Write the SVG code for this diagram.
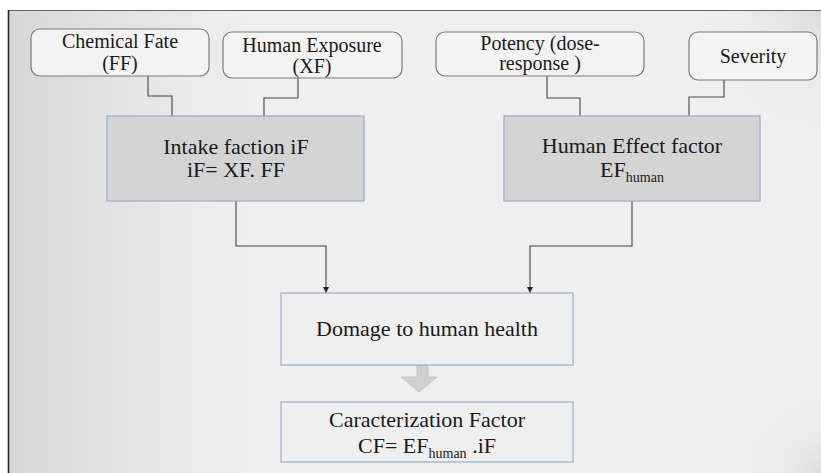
<svg xmlns="http://www.w3.org/2000/svg" width="821" height="473" viewBox="0 0 821 473">
<defs>
<linearGradient id="bgL" x1="0" y1="0" x2="1" y2="0">
<stop offset="0" stop-color="#d6d6d6"/>
<stop offset="0.12" stop-color="#e2e2e2"/>
<stop offset="0.3" stop-color="#efefef"/>
<stop offset="1" stop-color="#efefef"/>
</linearGradient>
<radialGradient id="tr" cx="821" cy="10" r="140" gradientUnits="userSpaceOnUse">
<stop offset="0" stop-color="#dcdcdc"/>
<stop offset="1" stop-color="#efefef" stop-opacity="0"/>
</radialGradient>
<radialGradient id="br" cx="821" cy="473" r="90" gradientUnits="userSpaceOnUse">
<stop offset="0" stop-color="#dedede"/>
<stop offset="1" stop-color="#efefef" stop-opacity="0"/>
</radialGradient>
<marker id="arr" viewBox="0 0 10 10" refX="10" refY="5" markerWidth="6" markerHeight="6" orient="auto" markerUnits="userSpaceOnUse">
<path d="M0,0 L10,5 L0,10 z" fill="#222"/>
</marker>
</defs>
<style>
text{font-family:"Liberation Serif","Times New Roman",serif;fill:#1a1a1a;text-anchor:middle}
.small rect{fill:#f3f3f3;stroke:#7a7a7a;stroke-width:1.2}
.mid rect{fill:#d4d4d4;stroke:#94aecb;stroke-width:1.2}
.low rect{fill:#efefef;stroke:#a3bad4;stroke-width:1.4}
.c{fill:none;stroke:#444;stroke-width:1.1}
.t1{font-size:20px}
.t2{font-size:22px}
.sub{font-size:14px}
</style>
<rect x="0" y="0" width="821" height="473" fill="#ffffff"/>
<rect x="8" y="10" width="813" height="463" fill="url(#bgL)"/>
<rect x="8" y="10" width="813" height="463" fill="url(#tr)"/>
<rect x="8" y="10" width="813" height="463" fill="url(#br)"/>
<line x1="8" y1="10.5" x2="821" y2="10.5" stroke="#666" stroke-width="1.2"/>
<line x1="8.5" y1="10" x2="8.5" y2="473" stroke="#222" stroke-width="1.6"/>

<g id="connectors">
<path class="c" d="M148,76 V96 H172 V116"/>
<path class="c" d="M298,78 V98 H264 V116"/>
<path class="c" d="M547,76 V98 H580 V116"/>
<path class="c" d="M724,80 V97 H689 V116"/>
<path class="c" d="M236,201 V246 H326 V293" marker-end="url(#arr)"/>
<path class="c" d="M632,201 V246 H530 V293" marker-end="url(#arr)"/>
<path d="M417,365 H428 V377 H437 L419,392 L401,377 H417 Z" fill="#d0d0d0" stroke="#c0c0c0" stroke-width="0.8"/>
</g>

<g id="chemical-fate" class="small">
<rect x="31" y="29" width="178" height="47" rx="9"/>
<text class="t1" x="120" y="48">Chemical Fate</text>
<text class="t1" x="120" y="70">(FF)</text>
</g>
<g id="human-exposure" class="small">
<rect x="223" y="32" width="179" height="46" rx="9"/>
<text class="t1" x="312" y="52">Human Exposure</text>
<text class="t1" x="312" y="73">(XF)</text>
</g>
<g id="potency" class="small">
<rect x="436" y="32" width="208" height="44" rx="9"/>
<text class="t1" x="540" y="50">Potency (dose-</text>
<text class="t1" x="540" y="70">response )</text>
</g>
<g id="severity" class="small">
<rect x="689" y="32" width="128" height="48" rx="9"/>
<text class="t1" x="753" y="63">Severity</text>
</g>
<g id="intake" class="mid">
<rect x="107" y="116" width="257" height="85"/>
<text class="t2" x="236" y="154">Intake faction iF</text>
<text class="t2" x="236" y="177">iF= XF. FF</text>
</g>
<g id="effect" class="mid">
<rect x="504" y="116" width="256" height="85"/>
<text class="t2" x="632" y="153">Human Effect factor</text>
<text class="t2" x="632" y="177">EF<tspan class="sub" dy="5">human</tspan></text>
</g>
<g id="damage" class="low">
<rect x="281" y="293" width="292" height="72"/>
<text class="t2" x="427" y="336">Domage to human health</text>
</g>
<g id="cf" class="low">
<rect x="281" y="402" width="292" height="60"/>
<text class="t2" x="427" y="427">Caracterization Factor</text>
<text class="t2" x="427" y="453">CF= EF<tspan class="sub" dy="5">human</tspan><tspan dy="-5"> .iF</tspan></text>
</g>
</svg>
